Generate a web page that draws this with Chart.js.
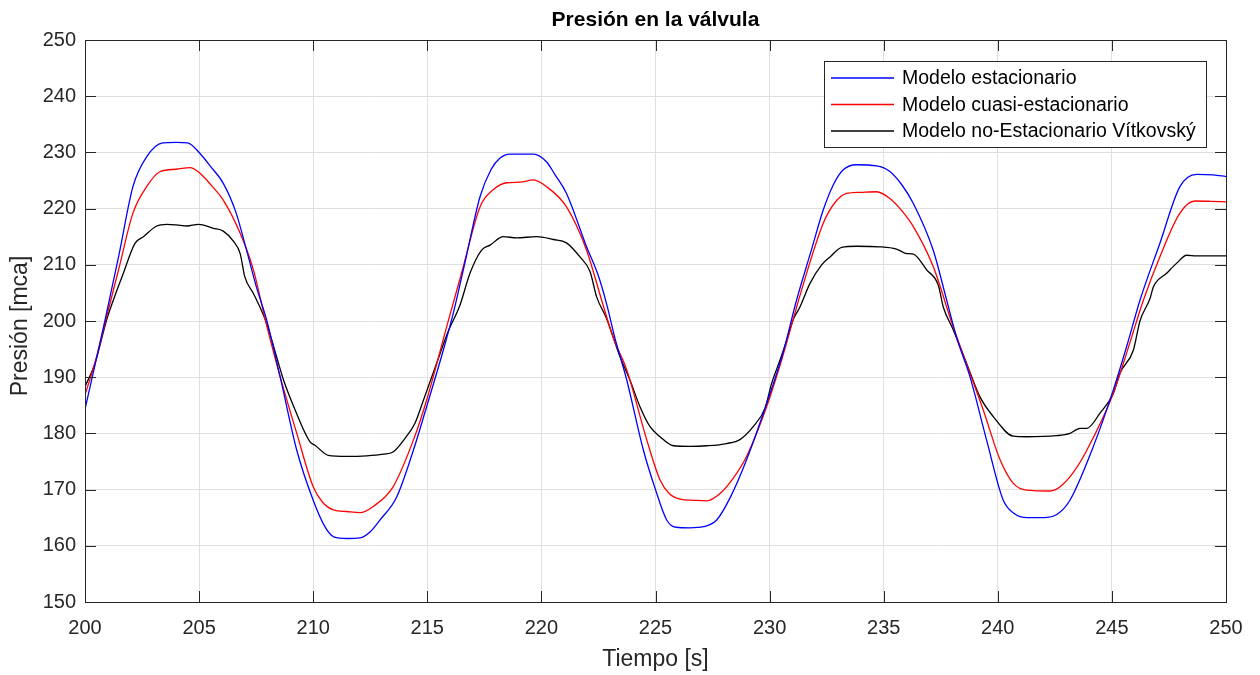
<!DOCTYPE html>
<html>
<head>
<meta charset="utf-8">
<script src="https://cdn.jsdelivr.net/npm/chart.js@4"></script>
<style>
  html, body { margin: 0; padding: 0; background: #fff; }
  #wrap { width: 1260px; height: 675px; }
</style>
</head>
<body>
<div id="wrap"><canvas id="chart" width="1260" height="675"></canvas></div>
<script>
const title = "Presión en la válvula";
const xLabel = "Tiempo [s]";
const yLabel = "Presión [mca]";
const labels = ["Modelo estacionario", "Modelo cuasi-estacionario", "Modelo no-Estacionario Vítkovský"];

const xTicks = [200, 205, 210, 215, 220, 225, 230, 235, 240, 245, 250];
const yTicks = [150, 160, 170, 180, 190, 200, 210, 220, 230, 240, 250];

// modelo estacionario
const tEst = [200.0, 200.44, 200.88, 201.5, 202.1, 202.7, 203.4, 204.0, 204.5, 205.04, 205.5, 206.06, 206.6, 207.08, 207.5, 207.96,
  208.55, 209.28, 210.0, 210.5, 210.9, 211.5, 212.05, 212.5, 212.93, 213.66, 214.39, 214.97, 215.7, 216.14, 216.7, 217.31,
  217.8, 218.19, 218.62, 219.65, 220.23, 220.6, 221.1, 221.98, 222.5, 222.86, 223.22, 223.74, 224.47, 225.0, 225.49, 225.9,
  226.5, 227.1, 227.68, 228.3, 228.99, 230.02, 230.6, 231.18, 231.8, 232.35, 232.8, 233.23, 233.81, 234.69, 235.27, 235.8,
  236.3, 237.17, 237.76, 238.2, 238.78, 239.51, 240.24, 240.7, 241.3, 242.0, 242.6, 243.16, 244.18, 245.06, 245.65, 246.23,
  247.1, 247.98, 248.71, 249.44, 250.0];
const pEst = [184.3, 192.2, 200.2, 212.0, 223.9, 229.2, 231.7, 231.8, 231.7, 229.8, 227.5, 224.5, 219.5, 212.6, 206.2, 200.2,
  190.1, 177.0, 168.1, 163.5, 161.6, 161.3, 161.4, 162.5, 164.6, 168.7, 177.0, 184.75, 194.8, 201.4, 211.3, 222.1,
  227.0, 229.0, 229.7, 229.7, 228.3, 226.0, 222.7, 213.2, 208.0, 203.0, 197.0, 189.5, 177.0, 170.0, 164.6, 163.3,
  163.2, 163.4, 164.6, 168.8, 175.3, 187.1, 194.5, 203.7, 212.2, 219.75, 224.3, 226.9, 227.8, 227.6, 226.6, 224.2,
  220.9, 212.6, 203.7, 197.0, 190.1, 178.8, 168.1, 165.8, 165.0, 165.0, 165.6, 168.1, 177.6, 187.7, 195.5, 203.7,
  213.8, 223.9, 226.1, 226.0, 225.7];

// modelo cuasi-estacionario
const tCuasi = [200.0, 200.5, 200.95, 201.5, 202.1, 202.7, 203.3, 204.0, 204.6, 205.04, 205.5, 206.06, 206.8, 207.38, 207.9,
  208.55, 209.28, 210.0, 210.4, 210.88, 211.46, 212.05, 212.63, 213.5, 214.39, 214.97, 215.85, 216.5, 217.31, 217.9, 218.48,
  219.07, 219.65, 220.23, 221.1, 221.98, 222.64, 223.15, 223.74, 224.62, 225.2, 225.6, 226.07, 226.66, 227.24, 227.83, 228.4,
  228.99, 229.87, 230.53, 231.4, 232.35, 232.85, 233.37, 233.96, 234.69, 235.27, 235.8, 236.3, 237.17, 238.0, 238.5, 239.36,
  240.1, 240.68, 241.26, 242.29, 242.73, 243.3, 243.9, 245.06, 245.7, 246.38, 247.1, 247.98, 248.64, 249.3, 250.0];
const pCuasi = [186.8, 193.5, 200.8, 209.6, 219.2, 223.9, 226.6, 227.0, 227.3, 226.3, 224.3, 221.5, 215.6, 209.1, 200.2,
  190.1, 180.0, 170.5, 167.8, 166.4, 166.1, 165.9, 167.0, 170.5, 178.8, 185.9, 199.0, 208.5, 220.3, 223.4, 224.6,
  224.7, 225.1, 223.9, 220.3, 212.6, 203.7, 197.0, 191.3, 178.8, 171.7, 169.3, 168.3, 168.1, 168.0, 169.3, 172.0,
  175.9, 184.75, 193.1, 205.5, 217.4, 221.0, 222.7, 222.9, 223.0, 221.8, 219.6, 216.8, 209.7, 199.5, 193.8, 184.2,
  175.3, 171.1, 169.9, 169.75, 170.5, 173.0, 177.0, 187.1, 195.0, 203.7, 211.4, 219.2, 221.35, 221.3, 221.2];

// modelo no estacionario (Vítkovský)
const tVit = [200.0, 200.44, 200.95, 201.24, 201.68, 202.19, 202.56, 203.14, 203.58, 204.0, 204.46, 204.97, 205.62, 206.06,
  206.5, 206.8, 207.0, 207.38, 207.9, 208.3, 208.7, 209.15, 209.86, 210.08, 210.66, 211.46, 212.34, 213.07, 213.5, 214.0,
  214.46, 214.83, 215.41, 215.9, 216.43, 216.87, 217.38, 217.75, 218.33, 218.91, 219.79, 220.52, 221.1, 221.69, 222.13,
  222.42, 222.86, 223.45, 223.88, 224.32, 224.76, 225.2, 225.78, 226.5, 227.24, 228.12, 228.7, 229.28, 229.8, 230.09,
  230.46, 230.75, 231.03, 231.33, 231.77, 232.28, 232.65, 233.16, 233.81, 234.83, 235.56, 236.0, 236.3, 236.88, 237.39,
  237.61, 238.05, 238.63, 239.22, 239.8, 240.68, 241.26, 242.57, 243.16, 243.6, 243.9, 244.48, 245.06, 245.35, 245.94,
  246.23, 246.67, 246.82, 247.4, 247.84, 248.28, 248.71, 250.0];
const pVit = [188.3, 192.5, 200.2, 203.7, 208.5, 213.8, 215.0, 216.9, 217.2, 217.1, 216.9, 217.2, 216.5, 216.0,
  214.2, 212.0, 207.9, 204.9, 200.2, 195.0, 189.5, 184.75, 178.5, 177.9, 176.1, 175.9, 176.0, 176.3, 176.7, 179.0,
  181.8, 185.9, 192.5, 198.0, 202.8, 208.5, 212.6, 213.5, 215.0, 214.8, 215.0, 214.5, 213.9, 211.4, 208.8,
  204.3, 200.4, 193.6, 189.5, 184.75, 181.2, 179.4, 177.8, 177.7, 177.8, 178.2, 178.9, 181.2, 184.5, 188.9,
  193.1, 196.6, 200.2, 202.5, 206.7, 210.0, 211.4, 213.1, 213.3, 213.2, 212.8, 212.0, 211.9, 209.1, 206.4,
  202.5, 198.4, 192.5, 186.5, 183.0, 179.5, 179.4, 179.6, 180.0, 180.9, 180.9, 183.6, 187.1, 190.7, 194.8,
  200.0, 204.0, 206.1, 208.5, 210.3, 211.7, 211.6, 211.6];

const AXIS = "#262626";
const FONT = "'Liberation Sans', Arial, Helvetica, sans-serif";

const toPoints = (ts, ps) => ts.map((t, i) => ({ x: t, y: ps[i] }));

const series = [
  { label: labels[0], data: toPoints(tEst, pEst), color: "#0000ff" },
  { label: labels[1], data: toPoints(tCuasi, pCuasi), color: "#ff0000" },
  { label: labels[2], data: toPoints(tVit, pVit), color: "#000000" },
];

// marco, marcas hacia dentro, títulos y leyenda al estilo MATLAB
const framePlugin = {
  id: "frame",
  afterDraw(chart) {
    const ctx = chart.ctx;
    const a = chart.chartArea;
    const xs = chart.scales.x, ys = chart.scales.y;
    const tick = 11;
    ctx.save();
    ctx.strokeStyle = AXIS;
    ctx.lineWidth = 1;
    ctx.beginPath();
    xTicks.forEach((v) => {
      const px = Math.round(xs.getPixelForValue(v)) + 0.5;
      ctx.moveTo(px, a.bottom); ctx.lineTo(px, a.bottom - tick);
      ctx.moveTo(px, a.top); ctx.lineTo(px, a.top + tick);
    });
    yTicks.forEach((v) => {
      const py = Math.round(ys.getPixelForValue(v)) + 0.5;
      ctx.moveTo(a.left, py); ctx.lineTo(a.left + tick, py);
      ctx.moveTo(a.right, py); ctx.lineTo(a.right - tick, py);
    });
    ctx.stroke();
    ctx.strokeRect(Math.round(a.left) + 0.5, Math.round(a.top) + 0.5,
      Math.round(a.right - a.left), Math.round(a.bottom - a.top));

    // título
    ctx.fillStyle = "#000";
    ctx.font = "bold 21px " + FONT;
    ctx.textAlign = "center";
    ctx.textBaseline = "middle";
    ctx.fillText(title, (a.left + a.right) / 2, 20);

    // títulos de ejes
    ctx.fillStyle = AXIS;
    ctx.font = "23px " + FONT;
    ctx.fillText(xLabel, (a.left + a.right) / 2, 660);
    ctx.save();
    ctx.translate(21, (a.top + a.bottom) / 2 + 5);
    ctx.rotate(-Math.PI / 2);
    ctx.fillText(yLabel, 0, 0);
    ctx.restore();

    // leyenda
    const lx = 824, ly = 61, lw = 382, lh = 86;
    ctx.fillStyle = "#fff";
    ctx.fillRect(lx, ly, lw, lh);
    ctx.strokeStyle = AXIS;
    ctx.strokeRect(lx + 0.5, ly + 0.5, lw, lh);
    ctx.font = "19.5px " + FONT;
    ctx.textAlign = "left";
    chart.data.datasets.forEach((ds, i) => {
      const y = 78 + i * 26.5;
      ctx.strokeStyle = ds.borderColor;
      ctx.lineWidth = 1.3;
      ctx.beginPath();
      ctx.moveTo(831, y); ctx.lineTo(894, y);
      ctx.stroke();
      ctx.fillStyle = "#000";
      ctx.fillText(ds.label, 902, y + 1);
    });
    ctx.restore();
  },
};

new Chart(document.getElementById("chart"), {
  type: "line",
  data: {
    datasets: series.map((s) => ({
      label: s.label,
      data: s.data,
      borderColor: s.color,
      backgroundColor: s.color,
      borderWidth: 1.3,
      pointRadius: 0,
      fill: false,
      cubicInterpolationMode: "monotone",
    })),
  },
  options: {
    responsive: false,
    animation: false,
    devicePixelRatio: 1,
    layout: { padding: { left: 0, right: 34, top: 40, bottom: 0 } },
    plugins: { legend: { display: false }, title: { display: false }, tooltip: { enabled: false } },
    scales: {
      x: {
        type: "linear",
        min: 200,
        max: 250,
        afterBuildTicks: (s) => { s.ticks = xTicks.map((v) => ({ value: v })); },
        afterFit: (s) => { s.height = 73; },
        grid: { color: "#dfdfdf", drawTicks: false },
        border: { display: false },
        ticks: { color: AXIS, font: { family: FONT, size: 20 }, padding: 14, maxRotation: 0 },
      },
      y: {
        type: "linear",
        min: 150,
        max: 250,
        afterBuildTicks: (s) => { s.ticks = yTicks.map((v) => ({ value: v })); },
        afterFit: (s) => { s.width = 85; },
        grid: { color: "#dfdfdf", drawTicks: false },
        border: { display: false },
        ticks: { color: AXIS, font: { family: FONT, size: 20 }, padding: 9 },
      },
    },
  },
  plugins: [framePlugin],
});
</script>
</body>
</html>
